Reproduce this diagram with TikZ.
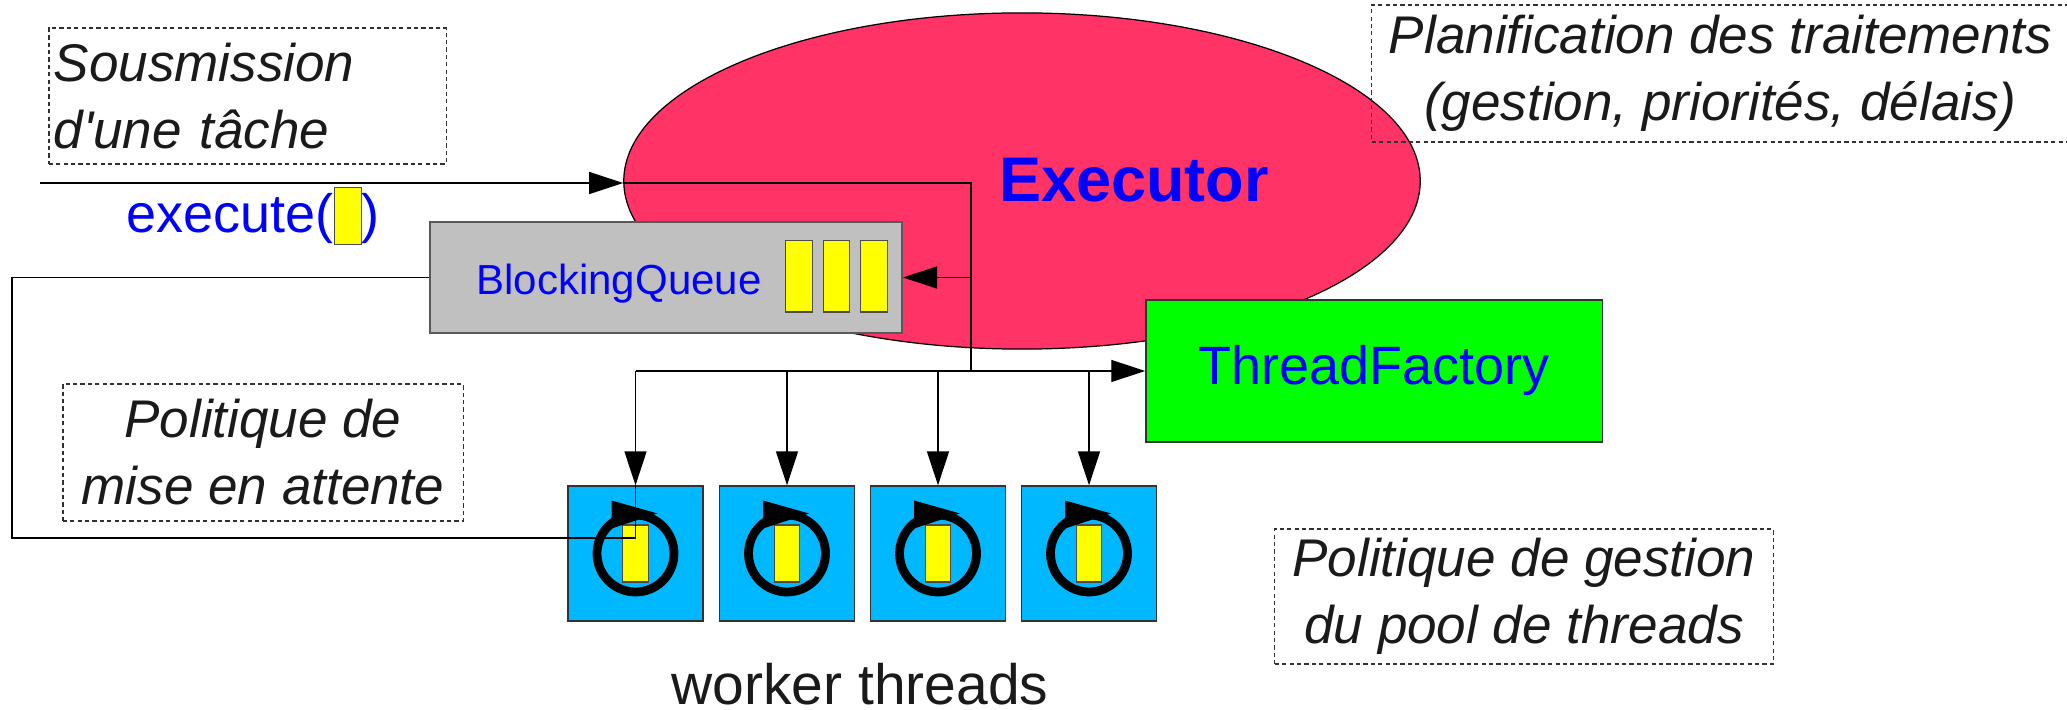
\documentclass[tikz,border=0pt]{standalone}
\usepackage{fontspec}
\setmainfont{Liberation Sans}
\newfontfamily\notefont{Liberation Sans}
\usepackage{tikz}
\usetikzlibrary{positioning}
\usetikzlibrary{shapes.geometric,arrows.meta}
\definecolor{execpink}{HTML}{FF3366}
\definecolor{poolblue}{HTML}{00B8FF}
\definecolor{queuegray}{HTML}{C0C0C0}
\definecolor{taskyellow}{HTML}{FFFF00}
\definecolor{factorygreen}{HTML}{00FF00}
\definecolor{inkgray}{HTML}{1A1A1A}
\tikzstyle{line} = [draw, line width=0.4pt, -{Triangle[length=3.4mm,width=2.2mm]}]
\tikzstyle{wire} = [draw, line width=0.4pt]
\tikzstyle{note} = [draw=inkgray!90, dash pattern=on 1.2pt off 0.9pt, line width=0.35pt, inner sep=0pt, text=inkgray, align=center, font=\notefont\fontsize{15.08}{19.06}\selectfont\itshape]
\tikzstyle{task} = [draw=black!70, fill=taskyellow, line width=0.3pt, inner sep=0pt, minimum width=0.255cm, minimum height=0.57cm]
\tikzstyle{worker} = [draw=black!80, fill=poolblue, line width=0.35pt, inner sep=0pt, minimum size=1.35cm]

\begin{document}
\begin{tikzpicture}[x=0.01cm, y=-0.01cm]
	\useasboundingbox (0,0) rectangle (2067,710);

	% executor
	\node[ellipse, draw, line width=0.35pt, fill=execpink, inner sep=0pt, minimum width=7.96cm, minimum height=3.36cm] (exec) at (1022,181) {};
	\node[text=blue, inner sep=0pt, font=\fontsize{17.93}{20}\selectfont\bfseries] (execname) at (1134,180) {Executor};

	% notes
	\node[note, inner xsep=0.05cm, text width=3.87cm, align=left, minimum height=1.36cm] (submit) at (247.5,96) {Sousmission\\d'une tâche};
	\node[note, minimum width=6.97cm, minimum height=1.37cm] (plan) at (1720.5,73.5) {Planification des traitements\\(gestion, priorités, délais)};
	\node[note, minimum width=4cm, minimum height=1.37cm] (waitpol) at (263,452.5) {Politique de\\mise en attente};
	\node[note, minimum width=4.98cm, minimum height=1.35cm] (poolpol) at (1524,596.5) {Politique de gestion\\du pool de threads};

	% queue
	\node[draw=black!65, fill=queuegray, line width=0.5pt, inner sep=0pt, minimum width=4.72cm, minimum height=1.11cm] (bq) at (666,277.5) {};
	\node[anchor=base, text=blue, inner sep=0pt, font=\fontsize{11.95}{14}\selectfont] (bqname) at (619,295) {BlockingQueue};
	\foreach \x in {799,836.5,874}
		\node[task, minimum width=0.265cm, minimum height=0.71cm] at (\x,276.5) {};

	% factory
	\node[draw=black!80, fill=factorygreen, line width=0.35pt, inner sep=0pt, minimum width=4.56cm, minimum height=1.42cm, text=blue, font=\fontsize{15.36}{18}\selectfont] (tf) at (1374,371) {\raisebox{1.2mm}{ThreadFactory}};

	% submission
	\node[anchor=base east, text=blue, inner sep=0pt, font=\fontsize{15.36}{18}\selectfont] (exe) at (334,233) {execute(};
	\node[task, anchor=north west, minimum width=0.27cm] (arg) at (334,187) {};
	\node[anchor=base west, text=blue, inner sep=0pt, font=\fontsize{15.36}{18}\selectfont] (close) at (361,233) {)};

	% worker threads
	\foreach \i/\x in {1/635.5,2/787,3/938,4/1089}{
		\node[worker] (w\i) at (\x,553.5) {};
		\draw[line width=2.5pt] (w\i.center) circle[radius=38.5];
		\node[task] at (w\i.center) {};
		\fill (w\i.center) ++(-24,-53) -- ++(46,13) -- ++(-46,15) -- cycle;
	}
	\node[anchor=base, text=inkgray, inner sep=0pt, font=\fontsize{16.2}{19}\selectfont] (pool) at (860,704) {worker threads};

	% connectors
	\coordinate (src) at (40,183);
	\coordinate (split) at (971,371);
	\coordinate (rej) at (12,538);
	\draw[line] (src) -- (src -| exec.west);
	\draw[wire] (src -| exec.west) -| (split);
	\draw[line] (split |- bq.east) -- (bq.east);
	\draw[line] (split) -- (tf.west);
	\draw[wire] (split) -- (split -| w1);
	\foreach \i in {1,...,4}
		\draw[line] (w\i |- split) -- (w\i.north);
	\draw[wire] (bq.west) -| (rej) -- (rej -| w1) -- (w1.north);
\end{tikzpicture}
\end{document}
